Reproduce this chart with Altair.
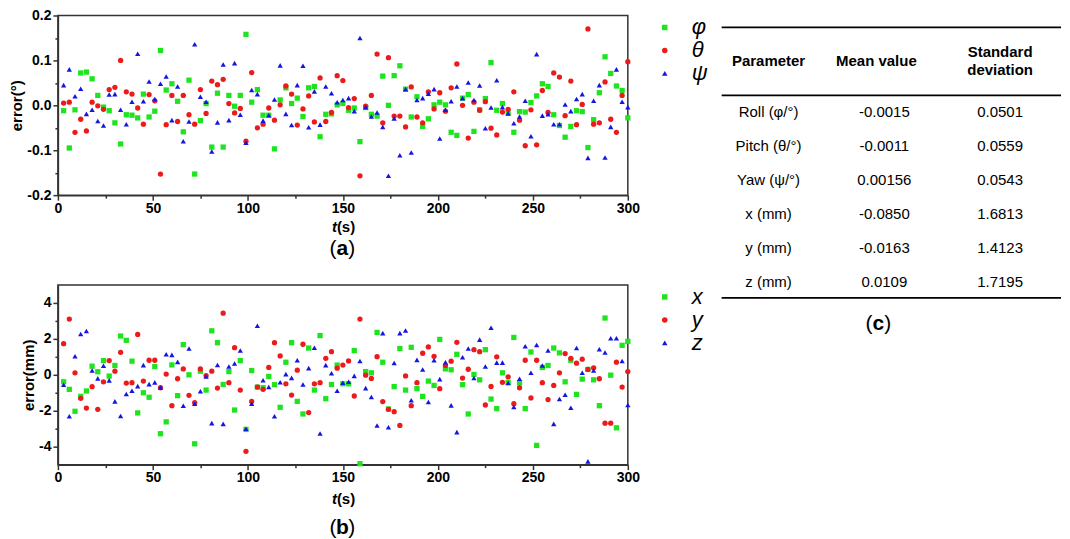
import altair as alt
import pandas as pd

FONT = "Liberation Sans"

# ---------------- data ----------------
t = list(range(3, 301, 3))

phi = [-0.012, -0.095, -0.010, 0.072, 0.074, 0.059, 0.022, -0.004, -0.012, -0.039,
       -0.086, -0.021, -0.022, -0.028, 0.025, -0.026, -0.013, 0.122, 0.034, 0.048,
       0.009, -0.059, 0.056, -0.153, -0.034, 0.004, -0.093, 0.027, -0.093, 0.022,
       -0.002, 0.022, 0.158, 0.007, 0.035, -0.022, -0.022, -0.097, 0.012, 0.039,
       0.004, 0.016, -0.025, 0.039, 0.042, -0.070, -0.020, -0.019, 0.001, 0.004,
       -0.011, -0.006, -0.081, -0.005, -0.020, -0.024, 0.065, 0.000, 0.066, 0.088,
       0.036, -0.026, 0.019, -0.047, -0.030, 0.001, 0.007, 0.001, -0.060, -0.067,
       0.016, 0.024, -0.058, -0.010, 0.015, 0.095, -0.011, 0.004, -0.017, -0.060,
       -0.014, -0.015, 0.006, 0.021, 0.048, 0.042, -0.021, -0.045, -0.071, -0.047,
       -0.012, -0.014, -0.094, -0.032, 0.028, 0.108, 0.071, 0.043, 0.033, -0.028]

theta = [0.005, 0.007, -0.060, -0.031, -0.057, 0.007, -0.001, -0.009, 0.035, 0.040,
         0.100, 0.030, 0.025, -0.006, -0.042, 0.024, 0.010, -0.153, -0.043, 0.022,
         -0.036, 0.022, -0.021, -0.042, 0.035, -0.018, 0.054, 0.046, 0.058, 0.004,
         -0.017, -0.007, -0.080, 0.073, -0.050, -0.042, -0.006, -0.033, 0.001, 0.043,
         0.025, -0.044, -0.008, 0.021, -0.037, 0.061, -0.036, -0.016, 0.066, 0.055,
         -0.005, 0.015, -0.157, -0.002, 0.022, 0.114, -0.039, 0.106, -0.024, -0.024,
         -0.048, 0.041, -0.026, -0.039, 0.030, -0.008, 0.028, -0.013, 0.039, 0.092,
         0.000, -0.073, 0.007, -0.011, 0.008, -0.051, -0.066, -0.015, -0.009, 0.030,
         -0.033, -0.090, -0.010, -0.088, 0.033, -0.016, 0.072, 0.063, -0.023, 0.054,
         -0.043, 0.002, 0.170, -0.042, -0.039, 0.052, -0.031, -0.060, 0.022, 0.097]

psi = [0.045, 0.080, 0.020, 0.037, -0.019, -0.010, -0.035, -0.045, 0.024, 0.025,
       -0.010, -0.042, 0.008, 0.115, 0.009, 0.053, 0.014, 0.048, 0.064, -0.033,
       0.042, -0.080, -0.036, 0.136, 0.019, 0.008, -0.103, -0.038, 0.091, -0.033,
       0.094, -0.021, -0.083, 0.034, 0.025, -0.034, -0.022, 0.013, 0.089, -0.019,
       -0.044, 0.045, 0.088, -0.049, 0.031, -0.043, 0.042, 0.027, 0.007, 0.012,
       0.016, -0.013, 0.150, -0.004, -0.025, -0.016, -0.048, -0.157, -0.029, -0.111,
       0.036, -0.105, 0.012, 0.016, 0.026, 0.036, -0.074, -0.010, 0.009, 0.042,
       0.016, 0.051, 0.012, 0.044, -0.051, -0.005, 0.056, -0.004, -0.018, -0.040,
       -0.025, 0.010, -0.069, 0.114, -0.023, -0.020, -0.042, -0.042, 0.002, -0.013,
       0.014, 0.025, -0.117, 0.010, 0.045, -0.116, -0.048, 0.080, 0.008, -0.004]

xs = [-0.39, -0.81, -2.03, -1.20, -0.90, 0.48, 0.17, 0.79, -0.07, 0.52,
      2.16, 1.92, 0.76, -2.12, -1.00, -1.25, 0.46, -3.28, -2.62, 0.55,
      -1.16, 1.68, 0.00, -3.84, 0.20, -0.85, 2.45, 1.79, -0.54, 0.18,
      -1.96, 0.79, -3.04, 0.24, -0.68, -0.72, -0.09, -0.55, -1.81, 0.70,
      1.79, -1.48, -2.18, 1.49, -0.85, 2.18, -1.33, -0.54, 0.54, -0.50,
      -0.50, 1.35, -4.95, 0.18, 0.11, 2.36, 0.70, -1.90, -0.66, 1.46,
      -0.85, 1.53, -0.77, -1.20, -0.35, -0.59, 1.97, 0.33, 0.28, 1.14,
      -0.55, -2.18, 0.02, -0.28, 1.40, -1.35, -1.88, 0.11, -0.42, 2.08,
      -0.44, -1.88, 1.27, -3.93, 0.41, 0.52, 1.49, 1.22, -0.39, 0.81,
      -1.09, -0.24, 0.30, -0.28, -1.72, 3.16, -0.02, -2.95, 1.64, 1.86]

ys = [1.73, 3.10, 0.11, -1.31, -1.85, -0.66, -1.92, -0.39, 0.79, 0.20,
      1.25, -0.46, -0.44, 2.25, -0.35, 0.81, 0.81, -0.72, 0.04, -1.72,
      -0.22, 0.33, -1.14, -1.55, 0.33, -0.05, 0.20, -0.74, 3.43, -0.44,
      1.51, -0.85, -4.26, -1.48, -0.68, -0.81, 0.41, 1.79, 1.05, -0.50,
      -1.13, 0.26, 1.70, -2.10, -0.50, -0.44, 0.92, 1.29, 0.37, 0.54,
      0.77, -1.18, 3.10, -0.02, -0.20, 1.01, -1.49, -1.92, -2.05, -2.82,
      -0.06, -1.72, -0.44, 1.20, 1.55, 1.03, -0.77, 0.52, 0.76, 1.81,
      -0.18, 0.31, 1.40, 1.29, -1.68, -0.65, 1.00, -0.42, -0.11, -1.61,
      -0.72, 0.81, -1.29, 0.81, -0.44, -1.38, -0.59, 0.11, 1.18, 0.92,
      0.65, 0.87, 0.30, 0.39, -0.22, -2.69, -2.69, 0.70, -0.68, 0.18]

zs = [-0.55, -2.31, 1.03, 2.27, 2.44, 0.24, -0.20, 0.50, -0.31, -1.48,
      -2.29, -1.07, -0.89, -0.63, 0.54, -0.52, -0.42, -0.70, 1.14, 1.11,
      0.72, -1.72, 1.46, -1.61, -0.92, -0.09, -2.69, 0.55, -2.73, 0.46,
      0.63, 1.35, -3.00, -1.61, 2.73, -0.30, -0.68, -2.31, -0.41, 0.04,
      -0.17, 0.81, -0.54, 0.37, 1.51, -3.27, 0.54, 0.09, -0.89, -0.44,
      -0.39, -0.06, 0.77, -0.74, -1.24, -2.82, 2.32, -2.92, 0.66, 2.32,
      2.47, -1.42, 0.83, 0.30, -1.51, 0.81, -0.24, 0.70, -1.70, -3.19,
      0.98, 1.46, -0.18, 1.96, 0.46, 2.62, 0.68, 0.68, -0.46, -1.79,
      -0.22, 1.59, 0.11, 1.66, 0.52, 1.35, -2.73, -1.35, -1.11, -1.83,
      1.49, 0.11, -4.82, 0.24, 1.42, 1.24, 2.03, 2.03, 0.77, -1.68]

names_a = ["φ", "θ", "ψ"]
names_b = ["x", "y", "z"]

params = ["Roll (φ/°)", "Pitch (θ/°)", "Yaw (ψ/°)", "x (mm)", "y (mm)", "z (mm)"]
means = ["-0.0015", "-0.0011", "0.00156", "-0.0850", "-0.0163", "0.0109"]
stds = ["0.0501", "0.0559", "0.0543", "1.6813", "1.4123", "1.7195"]
headers = ["Parameter", "Mean value", "Standard\ndeviation"]

# ---------------- styling ----------------
COLORS = ["#1ee41e", "#ec1a1a", "#1515e2"]
SHAPES = ["square", "circle", "triangle-up"]
W, H = 571, 180
FRAME = "#333333"
one = pd.DataFrame({"k": [0]})


def txt(text, x, y, size, weight="normal", style="normal", align="center"):
    return alt.Chart(one).mark_text(
        text=text, font=FONT, fontSize=size, fontWeight=weight, fontStyle=style,
        align=align, baseline="middle", color="black"
    ).encode(x=alt.value(x), y=alt.value(y))


def panel(series, names, ydom, yvals, major_test, yfmt, ytitle, letter, ttl_y, cap_y):
    df = pd.DataFrame({
        "t": t * 3,
        "v": series[0] + series[1] + series[2],
        "s": [names[0]] * len(t) + [names[1]] * len(t) + [names[2]] * len(t),
    })
    leg = dict(title=None, orient="none", legendX=597, legendY=1, labelFont=FONT,
               labelFontSize=22, labelFontStyle="italic", labelColor="black",
               labelOffset=16, symbolSize=30, rowPadding=1, padding=0,
               symbolStrokeWidth=0)
    xaxis = alt.Axis(
        values=list(range(0, 301, 25)),
        labelExpr="datum.value % 50 == 0 ? datum.label : ''",
        tickSize={"condition": {"test": "datum.value % 50 != 0", "value": 3}, "value": 5},
        labelFont=FONT, labelFontWeight="bold", labelFontSize=14, labelColor="black",
        labelPadding=1, labelFlush=False, labelOverlap=False,
        tickColor=FRAME, tickWidth=1.5, domainColor=FRAME, domainWidth=1.5,
        grid=False, title=None,
    )
    yaxis = alt.Axis(
        values=yvals,
        labelExpr="(" + major_test + ") ? replace(format(datum.value, '" + yfmt + "'), '\u2212', '-') : ''",
        tickSize={"condition": {"test": "!(" + major_test + ")", "value": 3}, "value": 5},
        labelFont=FONT, labelFontWeight="bold", labelFontSize=14, labelColor="black",
        labelPadding=2, labelFlush=False, labelOverlap=False,
        tickColor=FRAME, tickWidth=1.5, domainColor=FRAME, domainWidth=1.5,
        grid=False, title=ytitle, titleFont=FONT, titleFontWeight="bold",
        titleFontSize=15, titleColor="black", titlePadding=2,
    )
    pts = alt.Chart(df).mark_point(filled=True, size=28, opacity=1).encode(
        x=alt.X("t:Q", scale=alt.Scale(domain=[0, 300], nice=False, zero=False), axis=xaxis),
        y=alt.Y("v:Q", scale=alt.Scale(domain=ydom, nice=False, zero=False), axis=yaxis),
        color=alt.Color("s:N", scale=alt.Scale(domain=names, range=COLORS),
                        legend=alt.Legend(**leg)),
        shape=alt.Shape("s:N", scale=alt.Scale(domain=names, range=SHAPES),
                        legend=alt.Legend(**leg)),
    )
    cx = 285
    layers = [
        pts,
        txt("t", cx - 5.5, ttl_y, 15, weight="bold", style="italic", align="right"),
        txt("(s)", cx - 5.5, ttl_y, 15, weight="bold", align="left"),
        txt("(", cx - 6, cap_y, 21, align="right"),
        txt(letter, cx, cap_y, 21, weight="bold"),
        txt(")", cx + 6, cap_y, 21, align="left"),
    ]
    return alt.layer(*layers).properties(
        width=W, height=H,
        view=alt.ViewBackground(stroke=FRAME, strokeWidth=1.5),
    )


A = panel([phi, theta, psi], names_a, [-0.2, 0.2],
          [-0.2, -0.15, -0.1, -0.05, 0, 0.05, 0.1, 0.15, 0.2],
          "abs(round(datum.value*100)) % 10 == 0", ".1f", "error(°)", "a", 212, 234)
B = panel([xs, ys, zs], names_b, [-5, 5],
          [-4, -3, -2, -1, 0, 1, 2, 3, 4],
          "abs(round(datum.value)) % 2 == 0", "d", "error(mm)", "b", 214, 243)

# ---------------- table ----------------
TW, TH = 340, 180
tdf = pd.DataFrame({"param": params, "mean": means, "std": stds})
rowscale = alt.Scale(type="point", domain=params, range=[97, 267], padding=0)


def col(field, x):
    return alt.Chart(tdf).mark_text(
        font=FONT, fontSize=15, color="black", align="center", baseline="middle"
    ).encode(x=alt.value(x), y=alt.Y("param:N", scale=rowscale, axis=None),
             text=alt.Text(field + ":N"))


def rule(y):
    return alt.Chart(one).mark_rule(color="black", strokeWidth=1.8).encode(
        x=alt.value(0), x2=alt.value(TW), y=alt.value(y))


def head(text, x, y):
    return alt.Chart(one).mark_text(
        text=text, font=FONT, fontSize=15, fontWeight="bold", color="black",
        align="center", baseline="middle", lineBreak="\n", lineHeight=18
    ).encode(x=alt.value(x), y=alt.value(y))


T = alt.layer(
    rule(12), rule(80), rule(283),
    head(headers[0], 47, 46), head(headers[1], 155, 46), head(headers[2], 279, 37),
    col("param", 47), col("mean", 163), col("std", 279),
    txt("(", 151, 309, 21, align="right"),
    txt("c", 157, 309, 21, weight="bold"),
    txt(")", 163, 309, 21, align="left"),
).properties(width=TW, height=TH, view=alt.ViewBackground(strokeWidth=0))

chart = alt.concat(
    A, T, B, columns=2, bounds="flush", spacing={"row": 90, "column": 94}
).resolve_scale(
    color="independent", shape="independent", x="independent", y="independent"
).resolve_legend(
    color="independent", shape="independent"
).properties(
    padding={"left": 1, "top": -1, "right": 0, "bottom": 0}
)

chart.save("out.html", embed_options={"renderer": "svg", "actions": False})
